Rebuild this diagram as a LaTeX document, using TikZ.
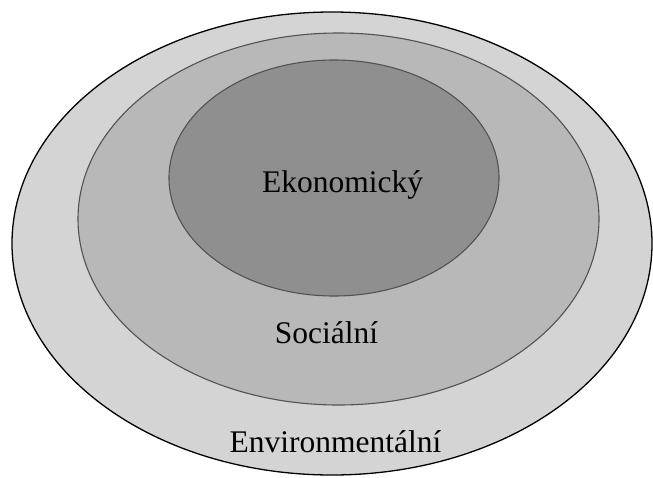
\documentclass[tikz,border=0pt]{standalone}
\usepackage{fontspec}
\setmainfont{Liberation Serif}

\definecolor{envfill}{gray}{0.83}
\definecolor{socfill}{gray}{0.72}
\definecolor{ekofill}{gray}{0.56}
\definecolor{rimgray}{gray}{0.32}

\tikzset{
  ring/.style={fill=#1, draw=rimgray, line width=0.55pt},
  ringlabel/.style={anchor=base, font=\fontsize{15.75}{18}\selectfont, text=black}
}

\begin{document}
\begin{tikzpicture}[x=0.5pt, y=-0.5pt]
			\useasboundingbox (0,0) rectangle (653,477);
			
			% Nested spheres, outermost first
			\draw[ring=envfill, draw=black, line width=0.65pt] (332,243.5) ellipse [x radius=160pt, y radius=115.75pt];
			\draw[ring=socfill] (338.5,219) ellipse [x radius=130.25pt, y radius=93pt];
			\draw[ring=ekofill] (334,178) ellipse [x radius=82.5pt, y radius=59pt];
			
			% Labels
			\node[ringlabel] (eko) at (342.5,192) {Ekonomický};
			\node[ringlabel] (soc) at (326.5,343) {Sociální};
			\node[ringlabel] (env) at (335.5,452) {Environmentální};
		\end{tikzpicture}
\end{document}
